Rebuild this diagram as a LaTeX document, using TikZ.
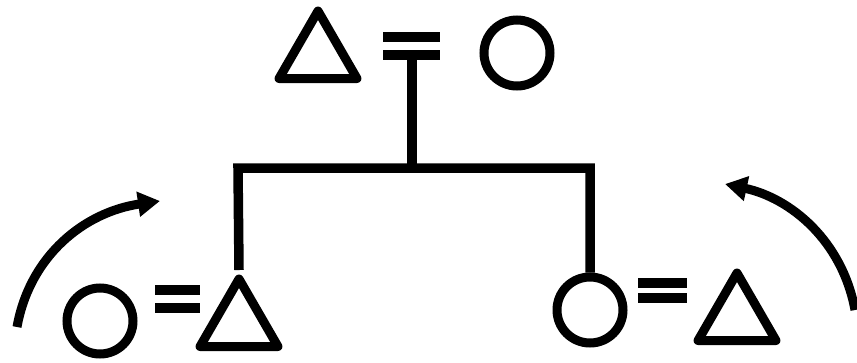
\documentclass[tikz,border=0pt]{standalone}
\usetikzlibrary{shapes.geometric,arrows.meta}
\begin{document}
\begin{tikzpicture}[x=1pt,y=-1pt,
  lw/.style={line width=9pt},
  circ/.style={draw,circle,lw,minimum size=66pt,inner sep=0pt},
  tri/.style={draw,regular polygon,regular polygon sides=3,lw,line join=round,minimum size=90pt,inner sep=0pt},
  bar/.style={line width=9.5pt},
  link/.style={line width=9.5pt,line join=miter},
  turn/.style={line width=9pt,-{Triangle[length=22pt,width=24pt]}}]
\useasboundingbox (0,0) rectangle (857,362);
% top couple
\node[tri] (tT) at (318,56) {};
\node[circ] (cT) at (517,53) {};
\coordinate (tb1a) at (383,37); \coordinate (tb1b) at (440,37);
\coordinate (tb2a) at (383,55); \coordinate (tb2b) at (440,55);
\draw[bar] (tb1a) -- (tb1b);
\draw[bar] (tb2a) -- (tb2b);
\coordinate (stem) at (412,55);
\coordinate (hmid) at (412,168);
\coordinate (hl) at (238,168);
\coordinate (hr) at (590,168);
\draw[link] (stem) -- (hmid);
% left couple
\node[circ] (cL) at (100,321) {};
\node[tri] (tL) at (239,324) {};
\coordinate (lb1a) at (155,290); \coordinate (lb1b) at (200,290);
\coordinate (lb2a) at (155,308); \coordinate (lb2b) at (200,308);
\draw[bar] (lb1a) -- (lb1b);
\draw[bar] (lb2a) -- (lb2b);
% right couple
\node[circ] (cR) at (590,310) {};
\node[tri] (tR) at (737,318) {};
\coordinate (rb1a) at (638,283); \coordinate (rb1b) at (687,283);
\coordinate (rb2a) at (638,298); \coordinate (rb2b) at (687,298);
\draw[bar] (rb1a) -- (rb1b);
\draw[bar] (rb2a) -- (rb2b);
% sibling line
\draw[link] (tL.corner 1) -- (hl) -- (hr) -- (cR.north);
% arrows
\coordinate (aLs) at (17,327); \coordinate (aLe) at (160,201);
\coordinate (aRs) at (855,310); \coordinate (aRe) at (725,184);
\draw[turn] (aLs) .. controls (30,255) and (85,212) .. (aLe);
\draw[turn] (aRs) .. controls (842,240) and (790,198) .. (aRe);
\end{tikzpicture}
\end{document}
